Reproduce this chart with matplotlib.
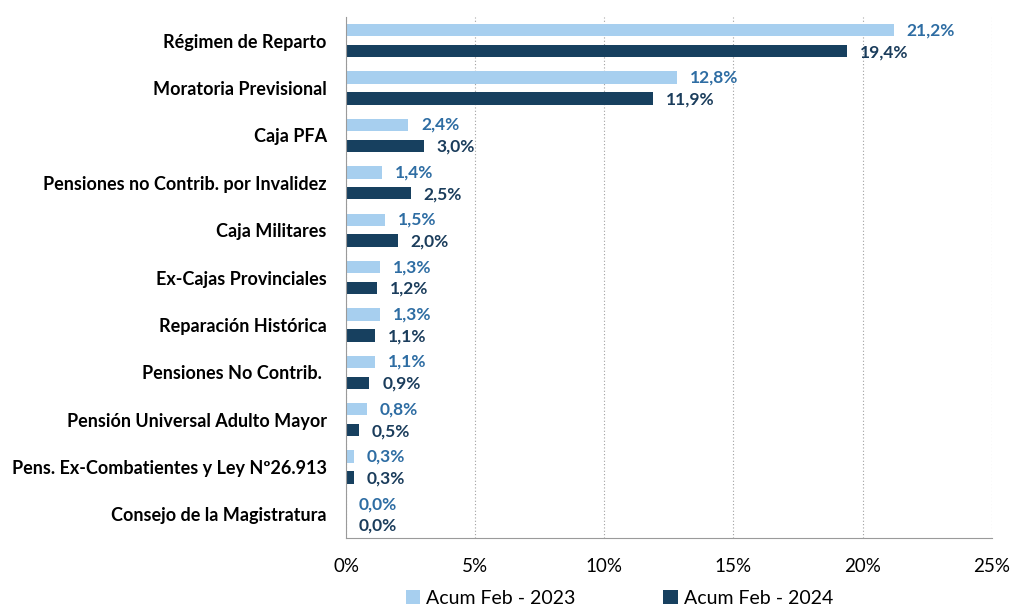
import numpy as np
import matplotlib.pyplot as plt
from matplotlib.ticker import FuncFormatter

plt.rcParams['font.family'] = ['Lato', 'DejaVu Sans']

categorias = ['Régimen de Reparto', 'Moratoria Previsional', 'Caja PFA',
              'Pensiones no Contrib. por Invalidez', 'Caja Militares',
              'Ex-Cajas Provinciales', 'Reparación Histórica',
              'Pensiones No Contrib. ', 'Pensión Universal Adulto Mayor',
              'Pens. Ex-Combatientes y Ley Nº26.913', 'Consejo de la Magistratura']
feb_2023 = [21.2, 12.8, 2.4, 1.4, 1.5, 1.3, 1.3, 1.1, 0.8, 0.3, 0.0]
feb_2024 = [19.4, 11.9, 3.0, 2.5, 2.0, 1.2, 1.1, 0.9, 0.5, 0.3, 0.0]
series = ['Acum Feb - 2023', 'Acum Feb - 2024']

c_claro = '#a7cfef'
c_oscuro = '#17405f'
c_txt_claro = '#2e6da3'
c_txt_oscuro = '#1b3d5c'

fig = plt.figure(figsize=(10.12, 6.06), dpi=100)
ax = fig.add_axes([0.342, 0.112, 0.638, 0.86])

y = np.arange(len(categorias))
alto = 0.26
ax.barh(y - 0.22, feb_2023, height=alto, color=c_claro, label=series[0])
ax.barh(y + 0.22, feb_2024, height=alto, color=c_oscuro, label=series[1])

for yi, v in zip(y, feb_2023):
    ax.text(v + 0.5, yi - 0.22, f'{v:.1f}%'.replace('.', ','), va='center',
            ha='left', fontsize=12.5, fontweight='bold', color=c_txt_claro)
for yi, v in zip(y, feb_2024):
    ax.text(v + 0.5, yi + 0.24, f'{v:.1f}%'.replace('.', ','), va='center',
            ha='left', fontsize=12.5, fontweight='bold', color=c_txt_oscuro)

ax.set_xlim(0, 25)
ax.set_ylim(len(categorias) - 0.5, -0.5)
ax.set_xticks(np.arange(0, 26, 5))
ax.xaxis.set_major_formatter(FuncFormatter(lambda x, p: f'{x:.0f}%'))
ax.set_yticks(y)
ax.set_yticklabels(categorias, fontsize=13, fontweight='bold')
ax.tick_params(axis='y', length=0, pad=14)
ax.tick_params(axis='x', length=0, pad=14, labelsize=13.5)

ax.grid(axis='x', linestyle=(0, (1, 2)), color='#a0a0a0', linewidth=0.8)
ax.set_axisbelow(True)
for s in ['top', 'right']:
    ax.spines[s].set_visible(False)
ax.spines['left'].set_color('#9a9a9a')
ax.spines['bottom'].set_color('#9a9a9a')

fig.legend(loc='lower center', bbox_to_anchor=(0.612, -0.03), ncol=2,
           frameon=False, fontsize=14, handlelength=0.75, handleheight=0.75,
           handletextpad=0.3, columnspacing=4.5)

fig.savefig('out.png', dpi=100)
